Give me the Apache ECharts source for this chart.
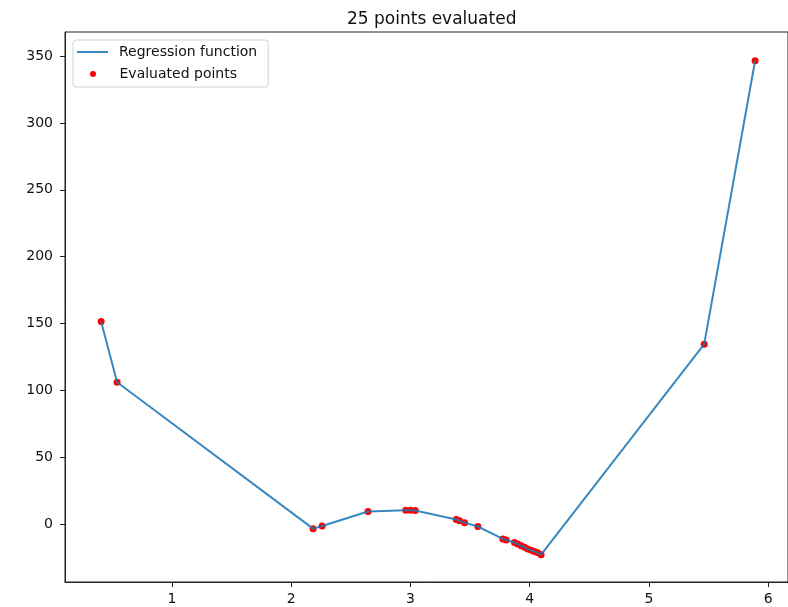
<!DOCTYPE html>
<html>
<head>
<meta charset="utf-8">
<script src="https://cdn.jsdelivr.net/npm/echarts@6/dist/echarts.min.js"></script>
<style>html,body{margin:0;padding:0;background:#fff;}#c{width:788px;height:607px;}</style>
</head>
<body>
<div id="c"></div>
<script>
var titleText = '25 points evaluated';
var lineName = 'Regression function';
var pointsName = 'Evaluated points';
var xValues = [0.405, 0.539, 2.183, 2.259, 2.644, 2.96, 3.00, 3.04, 3.384, 3.412, 3.454, 3.565, 3.775, 3.803, 3.873, 3.900, 3.929, 3.957, 3.984, 4.013, 4.040, 4.068, 4.096, 5.464, 5.891];
var yValues = [151.5, 106, -3.5, -1.5, 9.3, 10.2, 10.3, 10.1, 3.4, 2.4, 1.0, -1.9, -11.2, -12.0, -13.9, -15.0, -16.3, -17.5, -18.8, -19.6, -20.6, -21.6, -23.0, 134.5, 346.5];
var xTicks = [1, 2, 3, 4, 5, 6];
var yTicks = [0, 50, 100, 150, 200, 250, 300, 350];

var pts = xValues.map(function (x, i) { return [x, yValues[i]]; });
var font = 'DejaVu Sans';
var txt = '#111';
var chart = echarts.init(document.getElementById('c'), null, {renderer: 'canvas'});
chart.setOption({
  animation: false,
  backgroundColor: '#fff',
  title: {text: titleText, left: 342, top: 6, textStyle: {fontFamily: font, fontSize: 17, fontWeight: 'normal', color: txt}},
  grid: {left: 65, top: 32, right: -2, bottom: 25, show: true, borderColor: '#222', borderWidth: 1, backgroundColor: 'transparent'},
  legend: [
    {
      left: 73, top: 40, orient: 'vertical', z: 4,
      itemWidth: 31, itemHeight: 2,
      padding: [4, 11, 27, 4],
      backgroundColor: '#fff', borderColor: '#d0d0d0', borderWidth: 1, borderRadius: 3,
      textStyle: {fontFamily: font, fontSize: 14, color: txt, lineHeight: 16, padding: [0, 0, 0, 6]},
      data: [{name: lineName, icon: 'rect'}]
    },
    {
      left: 90, top: 66, orient: 'vertical', z: 5,
      itemWidth: 31, itemHeight: 6, padding: 0,
      textStyle: {fontFamily: font, fontSize: 14, color: txt, lineHeight: 16, padding: [0, 0, 0, 6]},
      data: [{name: pointsName, icon: 'circle'}]
    }
  ],
  xAxis: {
    type: 'value', min: 0.102, max: 6.167,
    splitLine: {show: false},
    axisLine: {show: true, onZero: false, lineStyle: {color: '#222', width: 1}},
    axisTick: {show: true, length: 5, lineStyle: {color: '#222'}, customValues: xTicks},
    axisLabel: {fontFamily: font, fontSize: 14, color: txt, margin: 10, customValues: xTicks}
  },
  yAxis: {
    type: 'value', min: -43.4, max: 368,
    splitLine: {show: false},
    axisLine: {show: true, onZero: false, lineStyle: {color: '#222', width: 1}},
    axisTick: {show: true, length: 5, lineStyle: {color: '#222'}, customValues: yTicks},
    axisLabel: {fontFamily: font, fontSize: 14, color: txt, margin: 12, customValues: yTicks}
  },
  series: [
    {name: pointsName, type: 'scatter', data: pts, symbol: 'circle', symbolSize: 7, itemStyle: {color: '#ff0000', opacity: 1}, z: 2},
    {name: lineName, type: 'line', data: pts, showSymbol: false, symbol: 'none', lineStyle: {color: '#1f77b4', width: 2, opacity: 0.88}, itemStyle: {color: '#3a87c0'}, z: 3}
  ]
});
</script>
</body>
</html>
